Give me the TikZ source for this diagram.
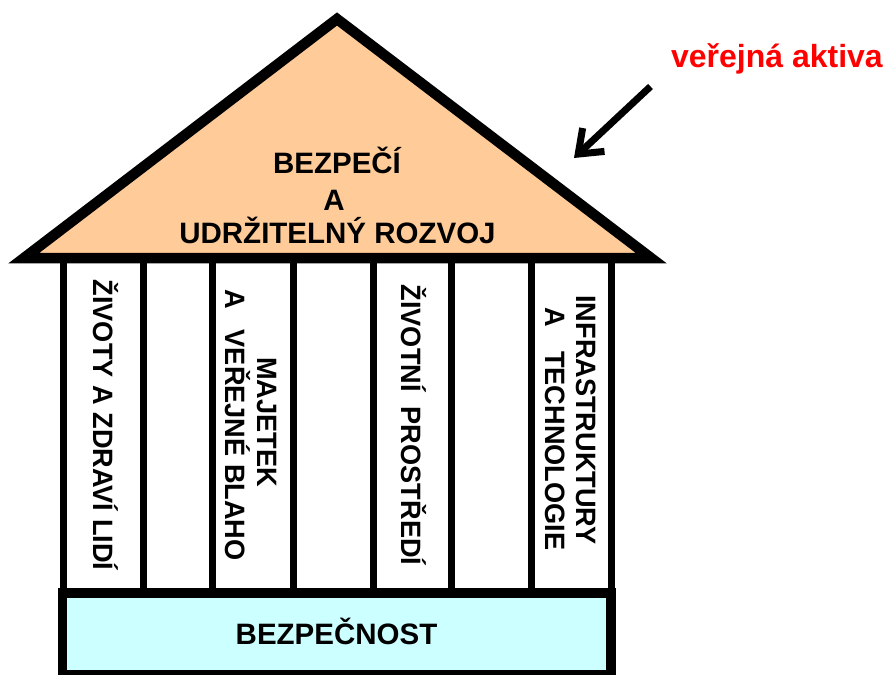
\documentclass[tikz,border=0pt]{standalone}
\usepackage{fontspec}
\setmainfont{Liberation Sans}
\newfontfamily\pillarfont[FakeStretch=0.97]{Liberation Sans}
\usetikzlibrary{arrows.meta}
\definecolor{roofpeach}{HTML}{FFCC99}
\definecolor{basecyan}{HTML}{CCFFFF}
\definecolor{labelred}{HTML}{FF0000}
\begin{document}
\begin{tikzpicture}[x=1pt,y=-1pt,
  pillar/.style={line width=7pt},
  roofline/.style={draw=black, line width=10.5pt, line join=miter, fill=roofpeach},
  basebox/.style={draw=black, line width=9.5pt, fill=basecyan},
  rooftext/.style={font=\fontsize{29.5}{35}\selectfont\bfseries, anchor=base, inner sep=0pt},
  pillartext/.style={font=\pillarfont\fontsize{28}{33}\selectfont\bfseries, rotate=-90, anchor=base, inner sep=0pt},
  tagtext/.style={font=\fontsize{32}{38}\selectfont\bfseries, text=labelred, anchor=base east, inner sep=0pt},
  pointer/.style={line width=7pt, -{Straight Barb[length=21pt,width=32pt]}},
]
\useasboundingbox (0,0) rectangle (885,674);
\fill[white] (0,0) rectangle (885,674);

% pillars between roof and foundation
\foreach \x in {63.5,143,212,293.5,373,451.5,531.5,611.5}
  \draw[pillar] (\x,258) -- (\x,593);

% roof
\draw[roofline] (24,258) -- (337,19) -- (651,258) -- cycle;

% foundation
\draw[basebox] (62.5,593) rectangle (611,674.5);

% roof caption
\node[rooftext] (r1) at (337,173) {BEZPEČÍ};
\node[rooftext] (r2) at (334,210) {A};
\node[rooftext] (r3) at (337.5,243.5) {UDRŽITELNÝ ROZVOJ};

% foundation caption
\node[rooftext] (fnd) at (336.5,644) {BEZPEČNOST};

% pillar captions
\node[pillartext] (p1) at (93.6,425) {ŽIVOTY A ZDRAVÍ LIDÍ};
\node[pillartext] (p3a) at (257.5,422) {MAJETEK};
\node[pillartext] (p3b) at (225.5,425) {A\hspace{21pt}VEŘEJNÉ BLAHO};
\node[pillartext] (p5) at (401.6,425) {ŽIVOTNÍ\hspace{15pt}PROSTŘEDÍ};
\node[pillartext] (p7a) at (576,420) {INFRASTRUKTURY};
\node[pillartext] (p7b) at (545,429) {A\hspace{24pt}TECHNOLOGIE};

% label and pointer
\node[tagtext] (tag) at (883,68) {veřejná aktiva};
\coordinate (tail) at (650.5,86.5);
\coordinate (tip) at (574,158);
\draw[pointer] (tail) -- (tip);
\end{tikzpicture}
\end{document}
